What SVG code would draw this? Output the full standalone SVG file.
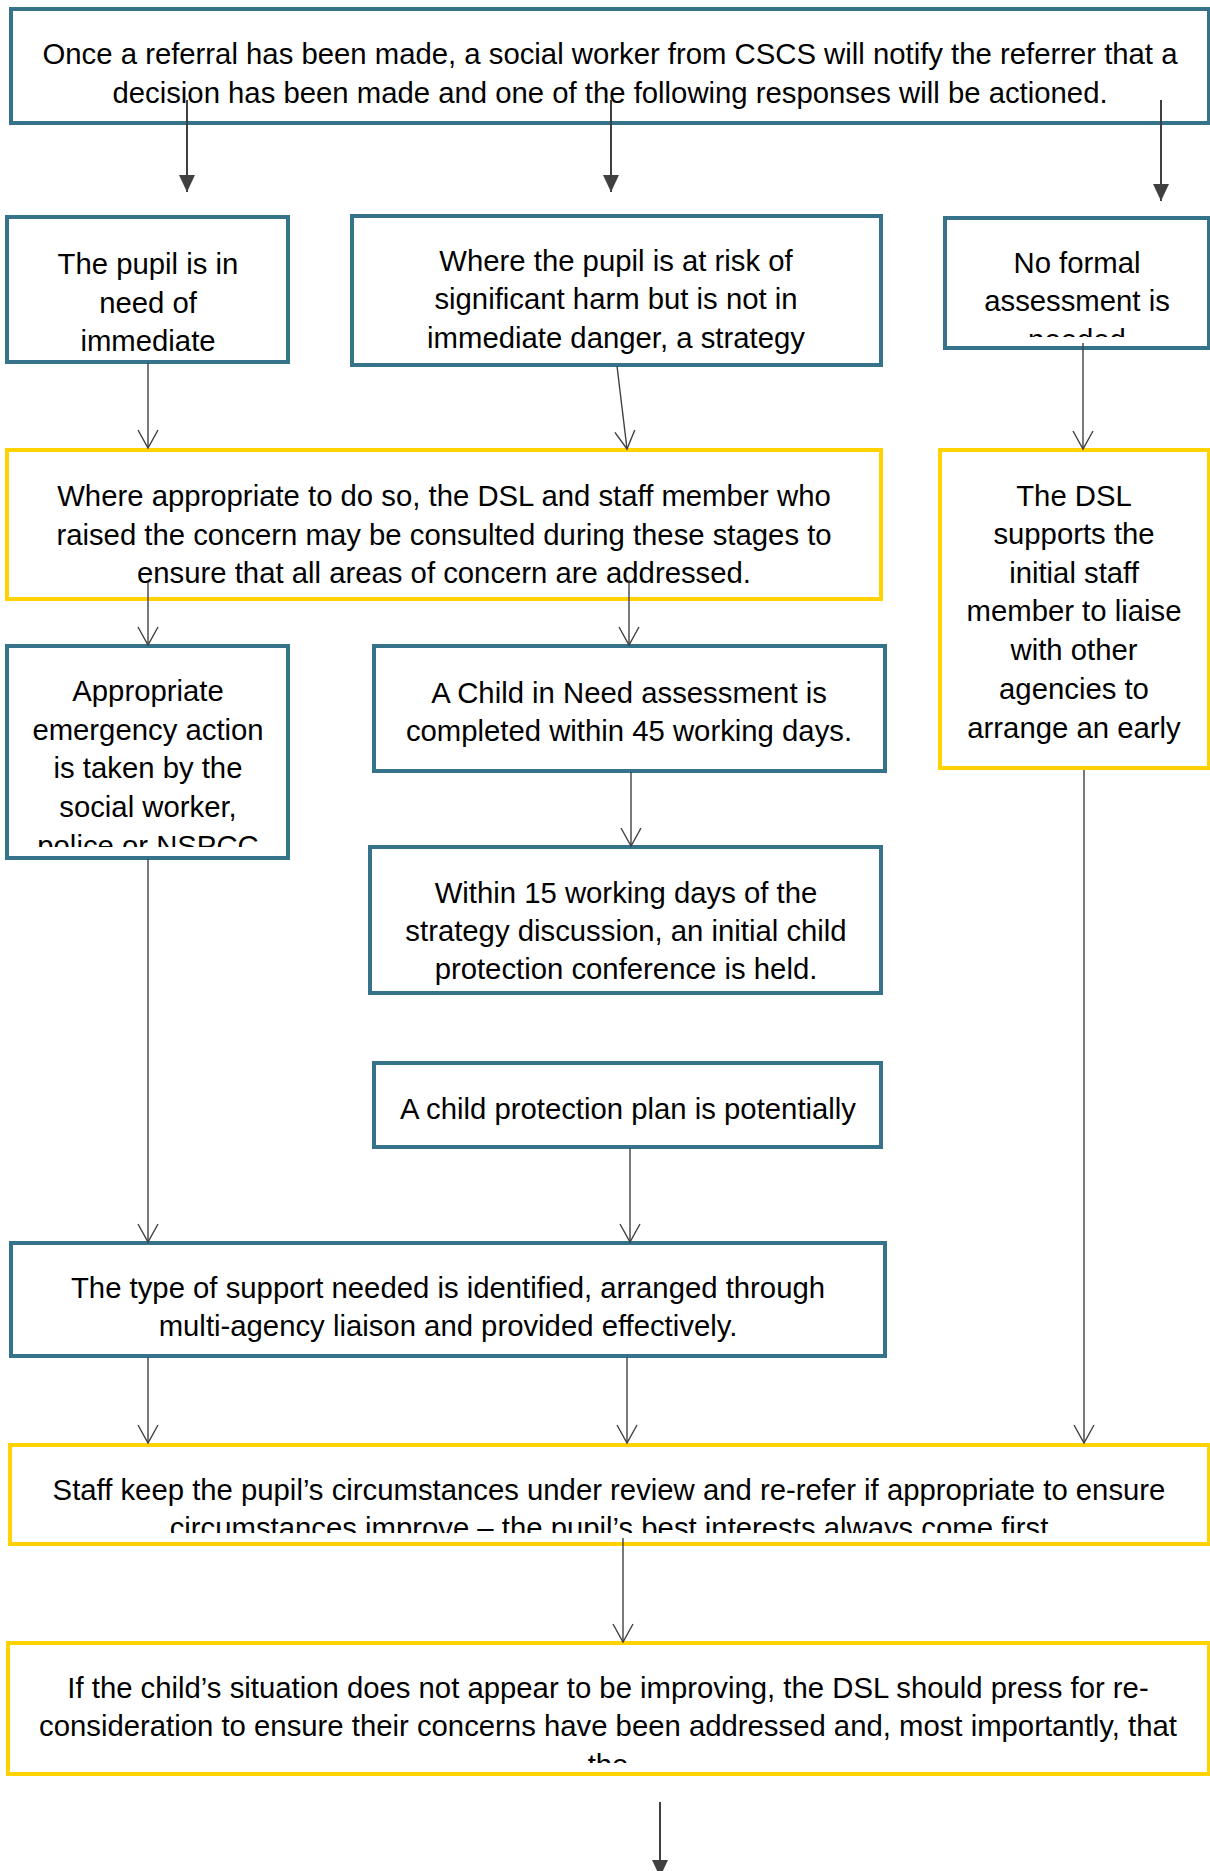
<svg xmlns="http://www.w3.org/2000/svg" width="1210" height="1871" viewBox="0 0 1210 1871">
<style>
.teal{fill:#ffffff;stroke:#35738a;stroke-width:4}
.yel{fill:#ffffff;stroke:#ffd200;stroke-width:4}
.t{font-family:"Liberation Sans",Arial,sans-serif;font-size:29.3px;fill:#000000;text-anchor:middle}
.c{fill:none;stroke:#404040;stroke-width:1.4}
.cf{fill:none;stroke:#404040;stroke-width:2}
</style>
<defs>
<marker id="open" markerUnits="userSpaceOnUse" viewBox="-1 -12 22 24" markerWidth="22" markerHeight="24" refX="18" refY="0" orient="auto">
<path d="M0,-10 L18,0 L0,10" fill="none" stroke="#404040" stroke-width="1.4"/>
</marker>
<marker id="fill" markerUnits="userSpaceOnUse" viewBox="0 -9 18 18" markerWidth="18" markerHeight="18" refX="17" refY="0" orient="auto">
<path d="M0,-8 L17,0 L0,8 Z" fill="#404040"/>
</marker>
<clipPath id="clipC"><rect x="945" y="218" width="264" height="119"/></clipPath>
<clipPath id="clipAppr"><rect x="7" y="646" width="281" height="201"/></clipPath>
<clipPath id="clipStaff"><rect x="10" y="1445" width="1199" height="88"/></clipPath>
<clipPath id="clipIf"><rect x="8" y="1643" width="1201" height="120"/></clipPath>
</defs>

<g id="node-top">
<rect class="teal" x="11" y="9" width="1198" height="114"/>
<text class="t" x="610" y="64">Once a referral has been made, a social worker from CSCS will notify the referrer that a</text>
<text class="t" x="610" y="103">decision has been made and one of the following responses will be actioned.</text>
</g>

<g id="node-immediate">
<rect class="teal" x="7" y="217" width="281" height="145"/>
<text class="t" x="148" y="274">The pupil is in</text>
<text class="t" x="148" y="313">need of</text>
<text class="t" x="148" y="351">immediate</text>
</g>

<g id="node-risk">
<rect class="teal" x="352" y="216" width="529" height="149"/>
<text class="t" x="616" y="271">Where the pupil is at risk of</text>
<text class="t" x="616" y="309">significant harm but is not in</text>
<text class="t" x="616" y="348">immediate danger, a strategy</text>
</g>

<g id="node-noformal">
<rect class="teal" x="945" y="218" width="264" height="130"/>
<g clip-path="url(#clipC)">
<text class="t" x="1077" y="273">No formal</text>
<text class="t" x="1077" y="311">assessment is</text>
<text class="t" x="1077" y="350">needed</text>
</g>
</g>

<g id="node-consult">
<rect class="yel" x="7" y="450" width="874" height="149"/>
<text class="t" x="444" y="506">Where appropriate to do so, the DSL and staff member who</text>
<text class="t" x="444" y="545">raised the concern may be consulted during these stages to</text>
<text class="t" x="444" y="583">ensure that all areas of concern are addressed.</text>
</g>

<g id="node-dsl">
<rect class="yel" x="940" y="450" width="269" height="318"/>
<text class="t" x="1074" y="506">The DSL</text>
<text class="t" x="1074" y="544">supports the</text>
<text class="t" x="1074" y="583">initial staff</text>
<text class="t" x="1074" y="621">member to liaise</text>
<text class="t" x="1074" y="660">with other</text>
<text class="t" x="1074" y="699">agencies to</text>
<text class="t" x="1074" y="738">arrange an early</text>
</g>

<g id="node-emergency">
<rect class="teal" x="7" y="646" width="281" height="212"/>
<g clip-path="url(#clipAppr)">
<text class="t" x="148" y="701">Appropriate</text>
<text class="t" x="148" y="740">emergency action</text>
<text class="t" x="148" y="778">is taken by the</text>
<text class="t" x="148" y="817">social worker,</text>
<text class="t" x="148" y="856">police or NSPCC</text>
</g>
</g>

<g id="node-cin">
<rect class="teal" x="374" y="646" width="511" height="125"/>
<text class="t" x="629" y="703">A Child in Need assessment is</text>
<text class="t" x="629" y="741">completed within 45 working days.</text>
</g>

<g id="node-conference">
<rect class="teal" x="370" y="847" width="511" height="146"/>
<text class="t" x="626" y="903">Within 15 working days of the</text>
<text class="t" x="626" y="941">strategy discussion, an initial child</text>
<text class="t" x="626" y="979">protection conference is held.</text>
</g>

<g id="node-plan">
<rect class="teal" x="374" y="1063" width="507" height="84"/>
<text class="t" x="628" y="1119">A child protection plan is potentially</text>
</g>

<g id="node-support">
<rect class="teal" x="11" y="1243" width="874" height="113"/>
<text class="t" x="448" y="1298">The type of support needed is identified, arranged through</text>
<text class="t" x="448" y="1336">multi-agency liaison and provided effectively.</text>
</g>

<g id="node-review">
<rect class="yel" x="10" y="1445" width="1199" height="99"/>
<g clip-path="url(#clipStaff)">
<text class="t" x="609" y="1500">Staff keep the pupil’s circumstances under review and re-refer if appropriate to ensure</text>
<text class="t" x="609" y="1538">circumstances improve – the pupil’s best interests always come first</text>
</g>
</g>

<g id="node-press">
<rect class="yel" x="8" y="1643" width="1201" height="131"/>
<g clip-path="url(#clipIf)">
<text class="t" x="608" y="1698">If the child’s situation does not appear to be improving, the DSL should press for re-</text>
<text class="t" x="608" y="1736">consideration to ensure their concerns have been addressed and, most importantly, that</text>
<text class="t" x="608" y="1775">the</text>
</g>
</g>

<g id="connectors">
<line class="cf" x1="187" y1="100" x2="187" y2="192" marker-end="url(#fill)"/>
<line class="cf" x1="611" y1="100" x2="611" y2="192" marker-end="url(#fill)"/>
<line class="cf" x1="1161" y1="100" x2="1161" y2="201" marker-end="url(#fill)"/>
<line class="c" x1="148" y1="363" x2="148" y2="448" marker-end="url(#open)"/>
<line class="c" x1="617" y1="366" x2="627" y2="449" marker-end="url(#open)"/>
<line class="c" x1="1083" y1="343" x2="1083" y2="449" marker-end="url(#open)"/>
<line class="c" x1="148" y1="582" x2="148" y2="645" marker-end="url(#open)"/>
<line class="c" x1="629" y1="580" x2="629" y2="645" marker-end="url(#open)"/>
<line class="c" x1="631" y1="772" x2="631" y2="846" marker-end="url(#open)"/>
<line class="c" x1="148" y1="859" x2="148" y2="1242" marker-end="url(#open)"/>
<line class="c" x1="630" y1="1148" x2="630" y2="1242" marker-end="url(#open)"/>
<line class="c" x1="1084" y1="770" x2="1084" y2="1443" marker-end="url(#open)"/>
<line class="c" x1="148" y1="1357" x2="148" y2="1443" marker-end="url(#open)"/>
<line class="c" x1="627" y1="1357" x2="627" y2="1443" marker-end="url(#open)"/>
<line class="c" x1="623" y1="1538" x2="623" y2="1642" marker-end="url(#open)"/>
<line class="cf" x1="660" y1="1802" x2="660" y2="1877" marker-end="url(#fill)"/>
</g>
</svg>
